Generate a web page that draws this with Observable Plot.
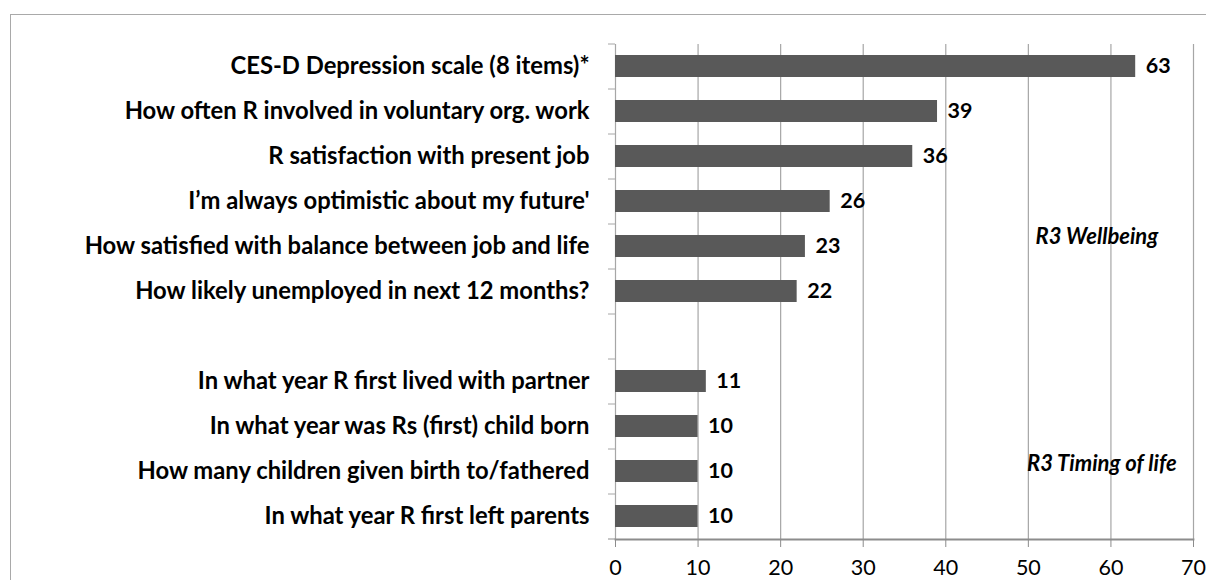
<!DOCTYPE html>
<html>
<head>
<meta charset="utf-8">
<script src="https://cdn.jsdelivr.net/npm/d3@7"></script>
<script src="https://cdn.jsdelivr.net/npm/@observablehq/plot@0.6"></script>
<style>
  html, body { margin: 0; padding: 0; background: #fff; overflow: hidden; }
  #wrap { position: relative; width: 1206px; height: 580px; }
  #border { position: absolute; left: 10px; top: 14px; width: 1210px; height: 600px; border: 1.5px solid #a9a9a9; box-sizing: border-box; pointer-events: none; }
  #chart { position: absolute; left: 0; top: 0; }
</style>
</head>
<body>
<div id="wrap"><div id="chart"></div><div id="border"></div></div>
<script>
const categories = [
  "CES-D Depression scale (8 items)*",
  "How often R involved in voluntary org. work",
  "R satisfaction with present job",
  "I\u2019m always optimistic about my future'",
  "How satisfied with balance between job and life",
  "How likely unemployed in next 12 months?",
  " ",
  "In what year R first lived with partner",
  "In what year was Rs (first) child born",
  "How many children given birth to/fathered",
  "In what year R first left parents"
];
const values = [63, 39, 36, 26, 23, 22, null, 11, 10, 10, 10];
const xTicks = [0, 10, 20, 30, 40, 50, 60, 70];
const groupLabels = ["R3 Wellbeing", "R3 Timing of life"];
const groupX = [58.3, 58.9];
const groupRow = [categories[4], categories[9]];

const data = categories.map((c, i) => ({label: c, value: values[i]})).filter(d => d.value != null);

const fontFamily = "Lato, 'Open Sans', sans-serif";

const plot = Plot.plot({
  width: 1206,
  height: 580,
  marginLeft: 615,
  marginRight: 13,
  marginTop: 44,
  marginBottom: 41,
  style: {fontFamily, background: "transparent", color: "#000"},
  x: {domain: [0, 70], label: null},
  y: {domain: categories, paddingInner: 0.51, paddingOuter: 0.255, label: null},
  marks: [
    Plot.gridX(xTicks.filter(t => t > 0), {stroke: "#a6a6a6", strokeOpacity: 1, strokeWidth: 1.2}),
    Plot.ruleX([0], {stroke: "#a6a6a6", strokeWidth: 1.2}),
    Plot.barX(data, {x: "value", y: "label", fill: "#595959"}),
    Plot.text(data, {x: "value", y: "label", text: d => String(d.value), textAnchor: "start", dx: 10, fontWeight: "bold", fontSize: 21.5, fill: "#000"}),
    Plot.axisY({tickSize: 7, dy: -22.5, text: null, stroke: "#a6a6a6", label: null}),
    Plot.axisY([categories[categories.length - 1]], {tickSize: 7, dy: 22.5, text: null, stroke: "#8c8c8c", label: null}),
    Plot.axisY({tickSize: 0, tickPadding: 26, fontSize: 23.8, fontWeight: "bold", fill: "#000", label: null}),
    Plot.frame({anchor: "bottom", stroke: "#8c8c8c", strokeWidth: 1.8}),
    Plot.axisX(xTicks, {tickSize: 8, tickPadding: 12, fontSize: 21.5, fill: "#000", stroke: "#8c8c8c", label: null}),
    ...groupLabels.map((g, i) => Plot.text([g], {x: () => groupX[i], y: () => groupRow[i], text: d => d, dy: i === 0 ? -10 : -8, fontStyle: "italic", fontWeight: "bold", fontSize: 22, fill: "#000"}))
  ]
});
document.getElementById("chart").appendChild(plot);
</script>
</body>
</html>
